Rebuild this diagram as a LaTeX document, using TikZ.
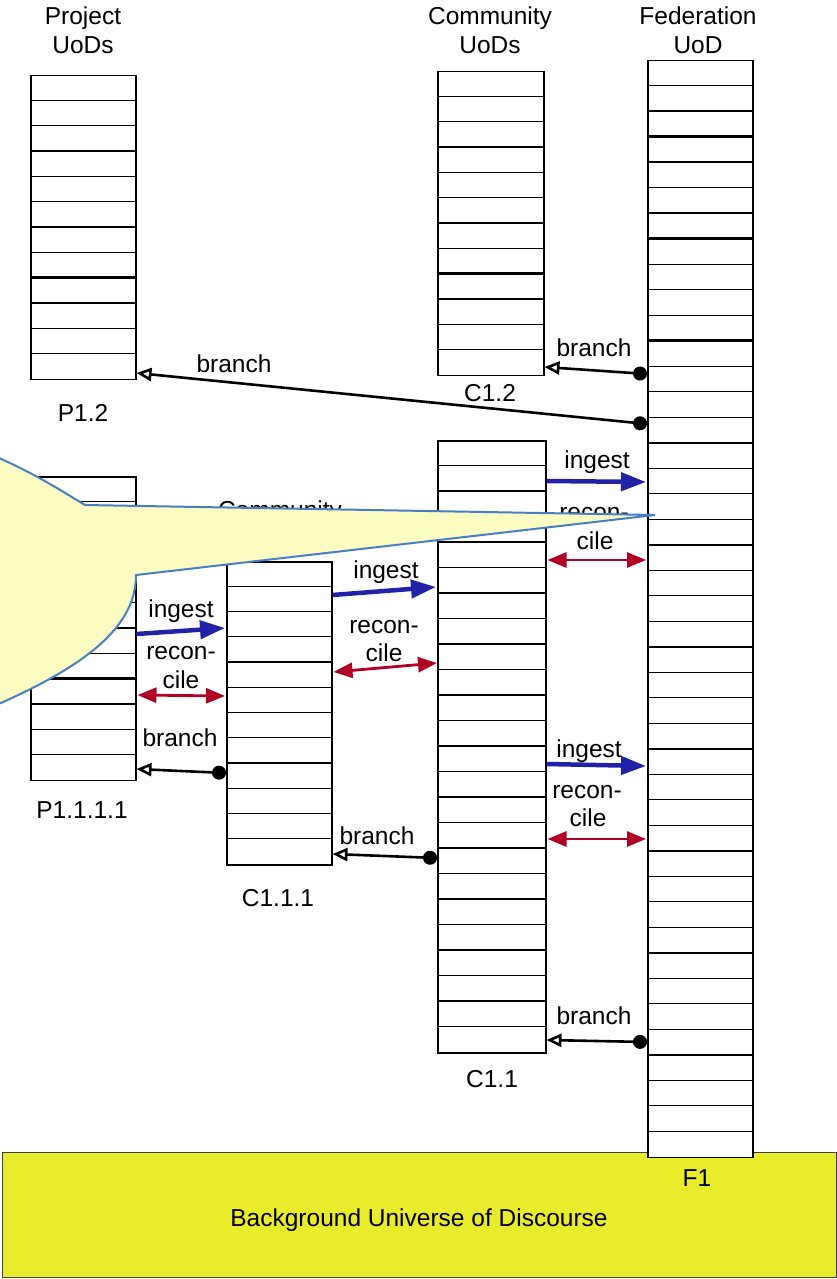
\documentclass[tikz,border=0pt]{standalone}
\usepackage{fontspec}
\setmainfont{Liberation Sans}
\usetikzlibrary{arrows.meta}
\definecolor{ingestblue}{HTML}{2222A8}
\definecolor{recred}{HTML}{B00024}
\definecolor{calloutfill}{HTML}{FAFCC2}
\definecolor{calloutline}{HTML}{4A7EC4}
\definecolor{bandyellow}{HTML}{E8EC2A}
\tikzset{
  every node/.style={font=\fontsize{24.5}{29}\selectfont, inner sep=0pt},
  colbox/.style={draw, line width=1.5pt, fill=white, inner sep=0pt, anchor=north west},
  lbl/.style={anchor=base},
  branch/.style={line width=2.6pt, {Circle[length=14pt]}-{Triangle[open,length=15pt,width=13pt]}},
  ingest/.style={ingestblue, line width=4.5pt, -{Triangle[length=25pt,width=18pt]}},
  reconcile/.style={recred, line width=2.8pt, {Triangle[length=19pt,width=15pt]}-{Triangle[length=19pt,width=15pt]}},
  callout/.style={fill=calloutfill, draw=calloutline, line width=2pt, line join=miter},
  band/.style={fill=bandyellow, draw=black!75, line width=1.4pt, anchor=north west}
}
% #1 name, #2 left x, #3 top y, #4 width, #5 rows, #6 row height, #7 period of thick lines, #8 offset
\newcommand\uodcol[8]{%
  \node[colbox, minimum width=#4pt, minimum height={#5*#6pt}] (#1) at (#2,#3) {};
  \pgfmathtruncatemacro\uodlast{#5-1}
  \foreach \i in {1,...,\uodlast}{
    \pgfmathsetmacro\uodlw{ifthenelse(mod(\i+#8,#7)==0,2.3,1.15)}
    \draw[line width=\uodlw pt] ([yshift=-\i*#6pt]#1.north west) -- ([yshift=-\i*#6pt]#1.north east);
  }
}
\begin{document}
\begin{tikzpicture}[x=1pt,y=-1pt]
\useasboundingbox (0,0) rectangle (836,1279);

% background universe of discourse
\node[band, minimum width=834pt, minimum height=125pt] (bg) at (2,1152) {};
\node[lbl] (bgtext) at (419,1226) {Background Universe of Discourse};

% headings
\node[lbl] (hP1) at (83,25) {Project};
\node[lbl] (hP2) at (83,54) {UoDs};
\node[lbl] (hC1) at (490,25) {Community};
\node[lbl] (hC2) at (490,54) {UoDs};
\node[lbl] (hF1) at (698,25) {Federation};
\node[lbl] (hF2) at (698,54) {UoD};

% columns
\uodcol{P12}{30}{75}{105}{12}{25.33}{8}{0}
\uodcol{C12}{437}{71}{106}{12}{25.33}{8}{0}
\uodcol{F1}{647}{60}{105}{43}{25.51}{4}{1}
\uodcol{C11}{437}{440}{108}{24}{25.5}{4}{0}
\uodcol{C111}{226}{561}{105}{12}{25.25}{8}{0}
\uodcol{P1111}{30}{476}{105}{12}{25.33}{8}{0}

% column names
\node[lbl] (nP12) at (83,421) {P1.2};
\node[lbl] (nC12) at (490,401) {C1.2};
\node[lbl] (nP1111) at (82,818) {P1.1.1.1};
\node[lbl] (nC111) at (278,906) {C1.1.1};
\node[lbl] (nC11) at (492,1087) {C1.1};
\node[lbl] (nF1) at (697,1186) {F1};

% hidden heading behind callout
\node[lbl] (hComm) at (280,518) {Community};

% branch connectors
\draw[branch] (F1.west |- 0,374) -- (C12.east |- 0,367);
\node[lbl] (lb1) at (594,356) {branch};
\draw[branch] (F1.west |- 0,424) -- (P12.east |- 0,373);
\node[lbl] (lb2) at (234,372) {branch};
\draw[branch] (C111.west |- 0,773) -- (P1111.east |- 0,769);
\node[lbl] (lb3) at (180,746) {branch};
\draw[branch] (C11.west |- 0,858) -- (C111.east |- 0,854);
\node[lbl] (lb4) at (377,844) {branch};
\draw[branch] (F1.west |- 0,1042) -- (C11.east |- 0,1040);
\node[lbl] (lb5) at (594,1024) {branch};

% ingest connectors
\draw[ingest] (C11.east |- 0,481) -- ([xshift=-1pt]F1.west |- 0,482);
\node[lbl] (li1) at (597,468) {ingest};
\draw[ingest] (C111.east |- 0,595) -- ([xshift=-1pt]C11.west |- 0,587);
\node[lbl] (li2) at (386,578) {ingest};
\draw[ingest] (P1111.east |- 0,634) -- ([xshift=-1pt]C111.west |- 0,628);
\node[lbl] (li3) at (181,617) {ingest};
\draw[ingest] (C11.east |- 0,764) -- ([xshift=-1pt]F1.west |- 0,766);
\node[lbl] (li4) at (589,757) {ingest};

% reconcile connectors
\draw[reconcile] ([xshift=1pt]C11.east |- 0,560) -- ([xshift=-1pt]F1.west |- 0,560);
\node[lbl] (lr1a) at (594,520) {recon-};
\node[lbl] (lr1b) at (595,549) {cile};
\draw[reconcile] ([xshift=1pt]C111.east |- 0,672) -- (C11.west |- 0,663);
\node[lbl] (lr2a) at (384,633) {recon-};
\node[lbl] (lr2b) at (384,661) {cile};
\draw[reconcile] ([xshift=1pt]P1111.east |- 0,695) -- ([xshift=-1pt]C111.west |- 0,696);
\node[lbl] (lr3a) at (181,659) {recon-};
\node[lbl] (lr3b) at (181,688) {cile};
\draw[reconcile] ([xshift=1pt]C11.east |- 0,839) -- ([xshift=-1pt]F1.west |- 0,839);
\node[lbl] (lr4a) at (587,798) {recon-};
\node[lbl] (lr4b) at (588,826) {cile};

% callout
\begin{scope}
\clip (0,0) rectangle (836,1279);
\path[callout] (-20,450) .. controls (30,470) and (60,490) .. (85,505)
  -- (655,515) -- (136,575)
  .. controls (136,630) and (80,670) .. (-20,712) -- cycle;
\end{scope}
\end{tikzpicture}
\end{document}
